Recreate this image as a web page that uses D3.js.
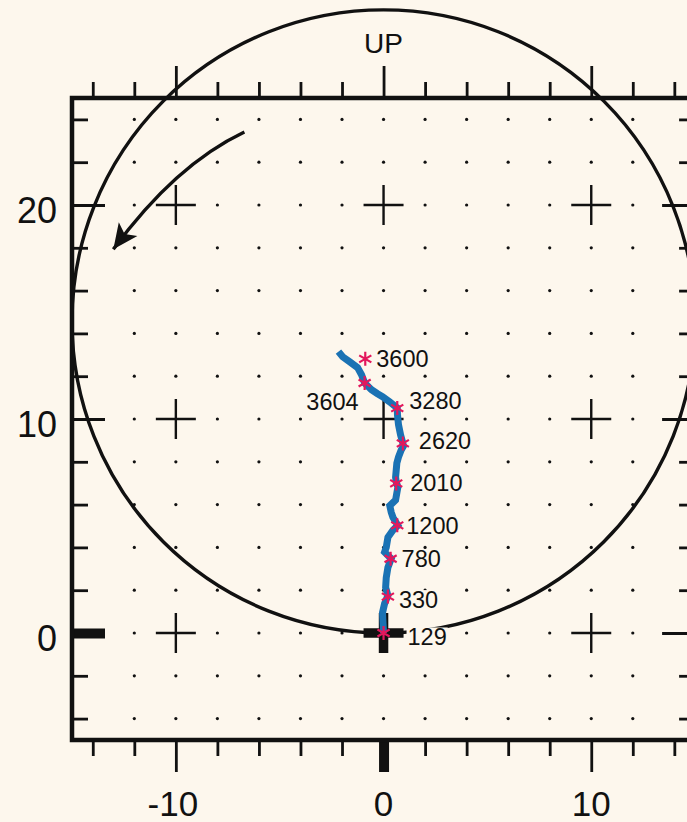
<!DOCTYPE html>
<html>
<head>
<meta charset="utf-8">
<script src="https://cdn.jsdelivr.net/npm/d3@7"></script>
<style>
  html, body { margin: 0; padding: 0; background: #fdf7ed; }
  svg { display: block; }
  text { font-family: "Liberation Sans", Arial, Helvetica, sans-serif; fill: #111; }
</style>
</head>
<body>
<svg id="chart" width="687" height="822"></svg>
<script>
// Track of the drift (x east, y up), in chart units
const trackX = [0, -0.05, 0.05, 0.21, 0.10, 0.13, 0.21, 0.37, 0.05, 0.13, 0.21, 0.45, 0.69, 0.45, 0.37, 0.30,
  0.58, 0.69, 0.61, 0.58, 0.61, 0.64, 0.72, 0.85, 0.96, 0.93, 0.82, 0.72, 0.67, 0.66, 0.29, -0.05,
  -0.29, -0.58, -0.91, -1.06, -1.25, -1.64, -1.97, -2.17];
const trackY = [0, 0.95, 1.37, 1.75, 2.13, 2.59, 3.06, 3.47, 3.78, 4.00, 4.47, 4.80, 5.03, 5.41, 5.64, 5.95,
  6.21, 6.82, 7.06, 7.28, 7.61, 7.94, 8.22, 8.55, 8.74, 8.86, 9.26, 9.73, 10.20, 10.51, 10.80, 11.04,
  11.18, 11.37, 11.68, 12.07, 12.40, 12.68, 12.91, 13.15];

// Marked stations along the track
const stationLabels = ["129", "330", "780", "1200", "2010", "2620", "3280", "3604", "3600"];
const stationX = [0, 0.21, 0.34, 0.66, 0.61, 0.93, 0.66, -0.91, -0.88];
const stationY = [0, 1.70, 3.47, 5.03, 6.99, 8.86, 10.51, 11.68, 12.81];

// Axes
const xDomain = [-15, 15];
const yDomain = [-5, 25];
const xTickValues = d3.range(-14, 15, 2);
const yTickValues = d3.range(-4, 25, 2);
const xLabelValues = [-10, 0, 10];
const yLabelValues = [0, 10, 20];
const majorValues = [-10, 0, 10, 20];

// Reference circle (radius in x units, tangent at the origin) and the turning arrow
const circleRadius = 15;
const arrowStart = [-6.7, 23.41];
const arrowControl = [-10.04, 21.87];
const arrowEnd = [-13.01, 17.93];

const BG = "#fdf7ed";
const INK = "#111";

const svg = d3.select("#chart");
svg.append("rect").attr("width", 687).attr("height", 822).attr("fill", BG);

const frameL = 72, frameR = 695.1, frameT = 98, frameB = 740;
const x = d3.scaleLinear().domain(xDomain).range([frameL, frameR]);
const y = d3.scaleLinear().domain(yDomain).range([frameB, frameT]);

const isMajor = v => majorValues.includes(v);

// Dot grid with crosses at the major intersections
const grid = svg.append("g");
const dots = [];
const crosses = [];
d3.range(-12, 13, 2).forEach(gx => {
  yTickValues.forEach(gy => {
    if (isMajor(gx) && isMajor(gy)) crosses.push([gx, gy]);
    else dots.push([gx, gy]);
  });
});
grid.selectAll("circle.dot").data(dots).join("circle")
  .attr("class", "dot")
  .attr("cx", d => x(d[0])).attr("cy", d => y(d[1])).attr("r", 1.6).attr("fill", INK);

const crossHalf = 20;
crosses.filter(d => !(d[0] === 0 && d[1] === 0)).forEach(d => {
  const cx = x(d[0]), cy = y(d[1]);
  grid.append("path")
    .attr("d", `M${cx - crossHalf},${cy}H${cx + crossHalf}M${cx},${cy - crossHalf}V${cy + crossHalf}`)
    .attr("stroke", INK).attr("stroke-width", 2.4).attr("fill", "none");
});

// Axes: ticks only, minor short and major long
function styleTicks(g) {
  g.select(".domain").remove();
  g.selectAll(".tick line").attr("stroke", INK).attr("stroke-width", 2.8);
  g.selectAll(".tick text").remove();
  return g;
}
const minorLen = 16, majorLen = 32;

const topAxis = svg.append("g").attr("transform", `translate(0,${frameT})`)
  .call(d3.axisTop(x).tickValues(xTickValues).tickSize(minorLen).tickFormat(""));
styleTicks(topAxis);
topAxis.selectAll(".tick line").attr("y2", d => isMajor(d) ? -majorLen : -minorLen);

const bottomAxis = svg.append("g").attr("transform", `translate(0,${frameB})`)
  .call(d3.axisBottom(x).tickValues(xTickValues).tickSize(minorLen).tickFormat(""));
styleTicks(bottomAxis);
bottomAxis.selectAll(".tick line")
  .attr("y2", d => isMajor(d) ? majorLen : minorLen)
  .attr("stroke-width", d => d === 0 ? 10 : 2.8);

const leftAxis = svg.append("g").attr("transform", `translate(${frameL},0)`)
  .call(d3.axisRight(y).tickValues(yTickValues).tickSize(minorLen).tickFormat(""));
styleTicks(leftAxis);
leftAxis.selectAll(".tick line")
  .attr("x2", d => isMajor(d) ? majorLen + 1 : minorLen)
  .attr("stroke-width", d => d === 0 ? 10 : 2.8);

const rightAxis = svg.append("g").attr("transform", `translate(${frameR},0)`)
  .call(d3.axisLeft(y).tickValues(yTickValues).tickSize(minorLen).tickFormat(""));
styleTicks(rightAxis);
rightAxis.selectAll(".tick line").attr("x2", d => isMajor(d) ? -(majorLen + 1) : -minorLen);

// Frame
svg.append("rect")
  .attr("x", frameL).attr("y", frameT)
  .attr("width", frameR - frameL).attr("height", frameB - frameT)
  .attr("fill", "none").attr("stroke", INK).attr("stroke-width", 4.5);

// Tick labels
svg.append("g").selectAll("text").data(xLabelValues).join("text")
  .attr("x", d => x(d) - (d < 0 ? 3 : 0)).attr("y", 816)
  .attr("text-anchor", "middle").attr("font-size", 35)
  .text(d => d < 0 ? "-" + Math.abs(d) : d);

svg.append("g").selectAll("text").data(yLabelValues).join("text")
  .attr("x", 57).attr("y", d => y(d)).attr("dy", "0.5em")
  .attr("text-anchor", "end").attr("font-size", 36)
  .text(d => d);

svg.append("text").attr("x", x(0)).attr("y", 53)
  .attr("text-anchor", "middle").attr("font-size", 28).text("UP");

// Reference circle through the origin
const rPx = x(circleRadius) - x(0);
svg.append("circle")
  .attr("cx", x(0)).attr("cy", y(0) - rPx).attr("r", rPx)
  .attr("fill", "none").attr("stroke", INK).attr("stroke-width", 3.4);

// Curved arrow showing the sense of rotation
const defs = svg.append("defs");
defs.append("marker")
  .attr("id", "arrowhead")
  .attr("markerUnits", "userSpaceOnUse")
  .attr("viewBox", "-26 -13 28 26")
  .attr("markerWidth", 28).attr("markerHeight", 26)
  .attr("refX", 0).attr("refY", 0)
  .attr("orient", "auto")
  .append("path")
  .attr("d", "M0,0L-25,-11.5L-19,0L-25,11.5Z")
  .attr("fill", INK);

const arrowPath = d3.path();
arrowPath.moveTo(x(arrowStart[0]), y(arrowStart[1]));
arrowPath.quadraticCurveTo(x(arrowControl[0]), y(arrowControl[1]), x(arrowEnd[0]), y(arrowEnd[1]));
svg.append("path")
  .attr("d", arrowPath.toString())
  .attr("fill", "none").attr("stroke", INK).attr("stroke-width", 3.4)
  .attr("marker-end", "url(#arrowhead)");

// Origin marker: heavy cross
const ox = x(0), oy = y(0);
svg.append("path")
  .attr("d", `M${ox - 20},${oy}H${ox + 20}M${ox},${oy - 20}V${oy + 20}`)
  .attr("stroke", INK).attr("stroke-width", 9.5).attr("fill", "none");

// Track
const trackData = d3.zip(trackX, trackY);
svg.append("path")
  .datum(trackData)
  .attr("d", d3.line().x(d => x(d[0])).y(d => y(d[1])))
  .attr("fill", "none").attr("stroke", "#1a72b4")
  .attr("stroke-width", 7).attr("stroke-linejoin", "miter").attr("stroke-miterlimit", 3)
  .attr("stroke-linecap", "butt");

// Station labels (drawn on a background patch)
const stations = stationLabels.map((label, i) => ({ label, sx: stationX[i], sy: stationY[i] }));
const placement = {
  "129":  { dx: 24, dy: 4, anchor: "start" },
  "3280": { dx: 12, dy: -8, anchor: "start" },
  "2620": { dx: 16, dy: -3, anchor: "start" },
  "2010": { dx: 14, dy: -1, anchor: "start" },
  "1200": { dx: 9,  dy: 0, anchor: "start" },
  "330":  { dx: 11, dy: 3, anchor: "start" },
  "3604": { dx: -6, dy: 18, anchor: "end" }
};
const defaultPlace = { dx: 11, dy: 0, anchor: "start" };

const labelG = svg.append("g");
stations.forEach(s => {
  const p = placement[s.label] || defaultPlace;
  const g = labelG.append("g");
  const t = g.append("text")
    .attr("x", x(s.sx) + p.dx).attr("y", y(s.sy) + p.dy).attr("dy", "0.36em")
    .attr("text-anchor", p.anchor).attr("font-size", 23.5)
    .text(s.label);
  const bb = t.node().getBBox();
  g.insert("rect", "text")
    .attr("x", bb.x - 1).attr("y", bb.y + 3)
    .attr("width", bb.width + 2).attr("height", bb.height - 5)
    .attr("fill", BG);
});

// Station markers: asterisks
const star = svg.append("g");
const armLen = 7;
stations.forEach(s => {
  const cx = x(s.sx), cy = y(s.sy);
  let d = "";
  [90, 30, -30].forEach(a => {
    const r = a * Math.PI / 180;
    const dx = armLen * Math.cos(r), dy = armLen * Math.sin(r);
    d += `M${cx - dx},${cy - dy}L${cx + dx},${cy + dy}`;
  });
  star.append("path").attr("d", d)
    .attr("stroke", "#e3175c").attr("stroke-width", 2.2).attr("fill", "none");
});
</script>
</body>
</html>
